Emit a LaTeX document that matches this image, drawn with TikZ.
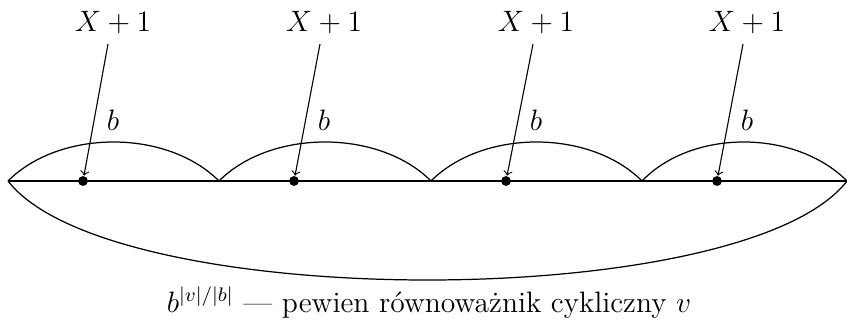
\documentclass[tikz,border=0pt]{standalone}
\begin{document}
\begin{tikzpicture}[x=0.4065pt,y=-0.4065pt,line width=0.5pt,
  lbl/.style={font=\large,inner sep=0pt,anchor=base},
  dotnode/.style={circle,fill=black,minimum size=4pt,inner sep=0pt},
  arr/.style={-to,line width=0.45pt}]
\useasboundingbox (0,0) rectangle (847,326);
\coordinate (L) at (8,181);
\coordinate (A) at (219,181);
\coordinate (B) at (431,181);
\coordinate (C) at (642,181);
\coordinate (R) at (847,181);
\draw (L) -- (R);
\draw (L) .. controls (60,129) and (167,129) .. (A);
\draw (A) .. controls (271,129) and (379,129) .. (B);
\draw (B) .. controls (483,129) and (590,129) .. (C);
\draw (C) .. controls (692,129) and (795,129) .. (R);
\draw (L) .. controls (110,313) and (745,313) .. (R);
\foreach \i/\dx/\sx/\lx in {1/83/108/113,2/294/320/324,3/506/533/536,4/717/743/747}{
  \node[dotnode] (d\i) at (\dx,181) {};
  \node[lbl] (x\i) at (\lx,32) {$X+1$};
  \node[lbl] (b\i) at (\lx,131) {$b$};
  \coordinate (s\i) at (\sx,44);
  \draw[arr] (s\i) -- (d\i);
}
\node[lbl] (cap) at (429,312) {$b^{|v|/|b|}$ --- pewien równoważnik cykliczny $v$};
\end{tikzpicture}
\end{document}
